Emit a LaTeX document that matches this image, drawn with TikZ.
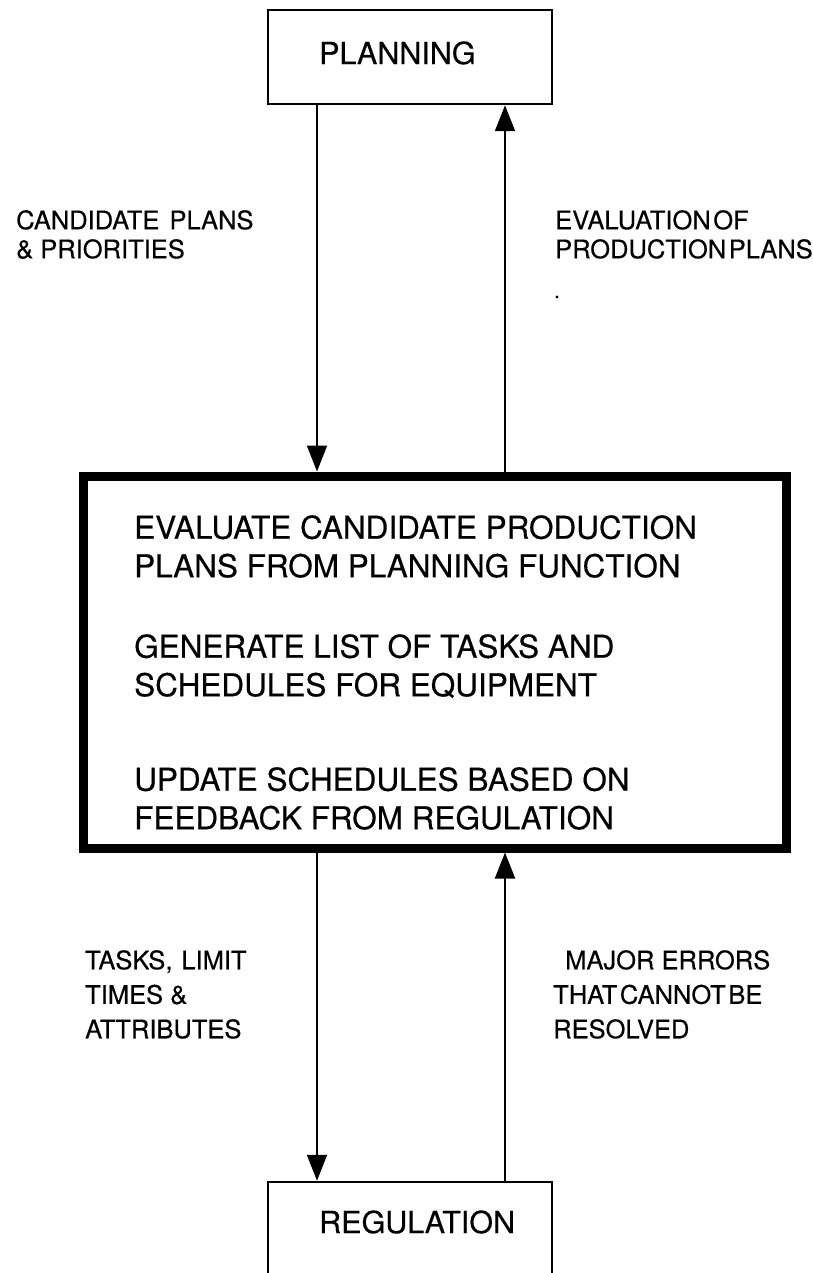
\documentclass[tikz,border=0pt]{standalone}
\usepackage{fontspec}
\setmainfont[FakeBold=0.4]{TeX Gyre Heros}
\usetikzlibrary{arrows.meta}
\begin{document}
\begin{tikzpicture}[x=1pt,y=-1pt,
  flowbox/.style={draw, line width=2.5pt, inner sep=0pt},
  mainbox/.style={draw, line width=9pt, inner sep=0pt},
  boxlabel/.style={font=\fontsize{30.5}{36}\selectfont, inner sep=0pt, anchor=west},
  bodytext/.style={font=\fontsize{31.5}{38.5}\selectfont, inner sep=0pt, anchor=north west, align=left},
  toplabel/.style={font=\fontsize{25.5}{29}\selectfont, inner sep=0pt, anchor=north west, align=left},
  lowlabel/.style={font=\fontsize{25.5}{34.5}\selectfont, inner sep=0pt, anchor=north west, align=left},
  flow/.style={line width=2pt, -{Triangle[width=20pt,length=26pt]}},
]
\useasboundingbox[fill=white] (0,0) rectangle (813,1273);

% boxes
\node[flowbox, minimum width=284pt, minimum height=94pt] (plan) at (410,57) {};
\node[boxlabel] (plantext) at (319,53) {PLANNING};

\node[mainbox, minimum width=703pt, minimum height=372pt] (sched) at (434.5,662) {};
\node[bodytext] (task1) at (134,515) {EVALUATE CANDIDATE PRODUCTION\\PLANS FROM PLANNING FUNCTION};
\node[bodytext] (task2) at (134,634) {GENERATE LIST OF TASKS AND\\SCHEDULES FOR EQUIPMENT};
\node[bodytext] (task3) at (134,767) {UPDATE SCHEDULES BASED ON\\FEEDBACK FROM REGULATION};

\node[flowbox, minimum width=284pt, minimum height=118pt] (reg) at (410,1241) {};
\node[boxlabel] (regtext) at (319,1222) {REGULATION};

% connector columns
\coordinate (cl) at (317,0);
\coordinate (cr) at (505,0);

\draw[flow] (plan.south -| cl) -- (sched.north -| cl);
\draw[flow] (sched.north -| cr) -- (plan.south -| cr);
\draw[flow] (sched.south -| cl) -- (reg.north -| cl);
\draw[flow] (reg.north -| cr) -- (sched.south -| cr);

% flow labels
\node[toplabel] (candidates) at (16,210) {CANDIDATE\hspace{0.4em}PLANS\\\& PRIORITIES};
\node[toplabel] (evaluation) at (555,210) {EVALUATION\hspace{0.1em}OF\\PRODUCTION\hspace{0.1em}PLANS};
\fill (557,297) circle (1.6);
\node[lowlabel] (tasks) at (85,950) {TASKS,\hspace{0.35em}LIMIT\\TIMES \&\\ATTRIBUTES};
\node[lowlabel] (errors) at (553,950) {\hspace*{12pt}MAJOR ERRORS\\THAT\hspace{0.1em}CANNOT\hspace{0.1em}BE\\RESOLVED};
\end{tikzpicture}
\end{document}
